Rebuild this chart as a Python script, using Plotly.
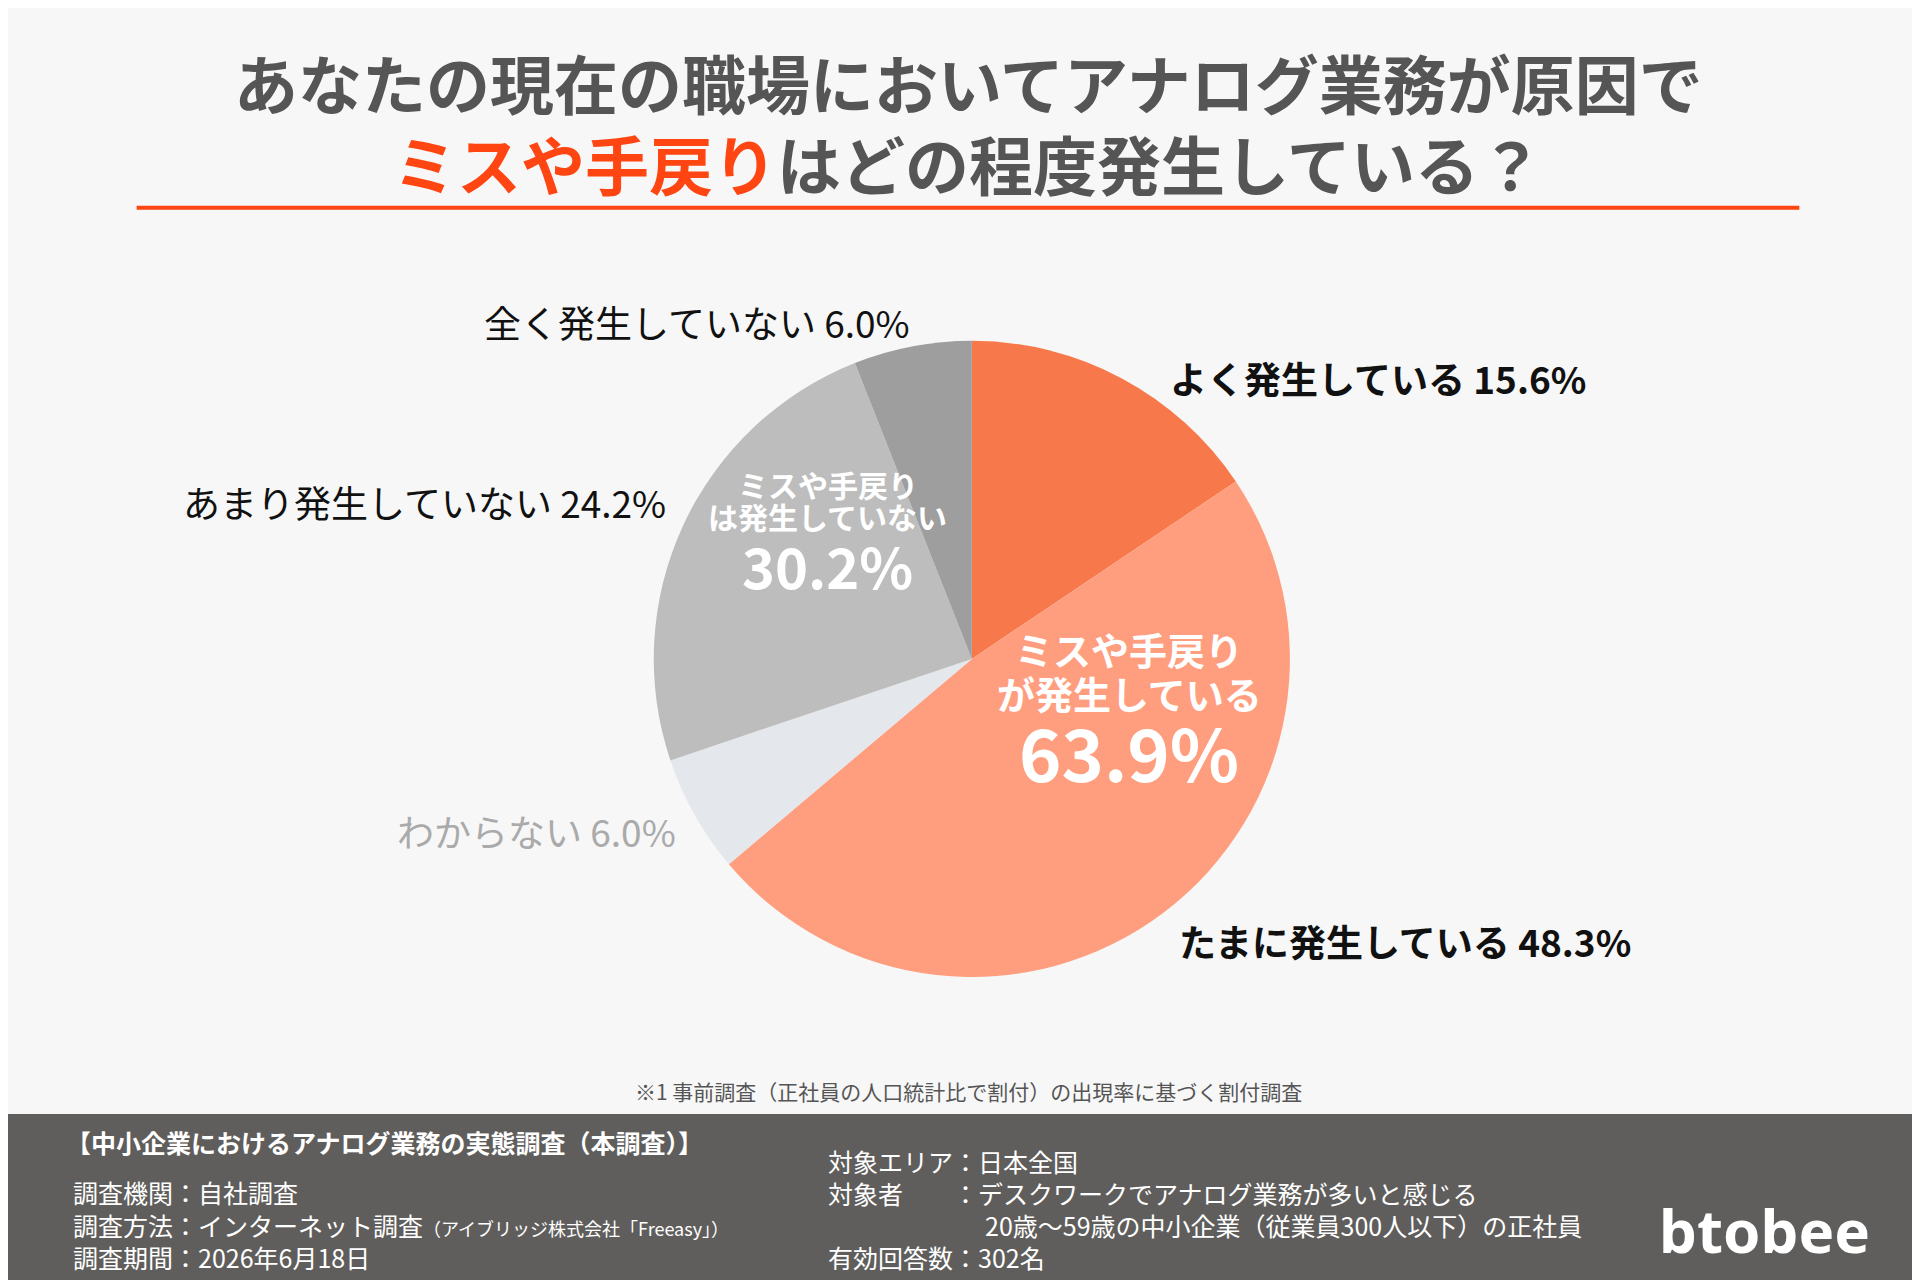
import plotly.graph_objects as go

# Data
labels = ["よく発生している", "たまに発生している", "わからない", "あまり発生していない", "全く発生していない"]
values = [15.6, 48.3, 6.0, 24.2, 6.0]
colors = ["#F7784A", "#FF9E7E", "#E4E7EB", "#BDBDBD", "#9E9E9E"]
group_labels = [["ミスや手戻り", "が発生している"], ["ミスや手戻り", "は発生していない"]]
group_values = [63.9, 30.2]

FONT = "Noto Sans CJK JP"

fig = go.Figure()

fig.add_trace(go.Pie(
    labels=labels,
    values=values,
    marker=dict(colors=colors, line=dict(width=0)),
    sort=False,
    direction="clockwise",
    rotation=0,
    textinfo="none",
    hoverinfo="label+percent",
    showlegend=False,
    domain=dict(x=[0.336, 0.668], y=[0.243, 0.74]),
))


def note(x, y, text, size, color, xanchor="center", family=FONT):
    """Place a text in paper coordinates, y measured from the top."""
    fig.add_annotation(x=x, y=1 - y, xref="paper", yref="paper", xanchor=xanchor, yanchor="middle",
                       text=text, showarrow=False, font=dict(family=family, size=size, color=color))


# Outside slice labels
outside = [
    (0, 0.604, 0.289, "left", "#111111"),
    (1, 0.609, 0.729, "left", "#111111"),
    (2, 0.349, 0.643, "right", "#AAAAAA"),
    (3, 0.344, 0.386, "right", "#111111"),
    (4, 0.471, 0.245, "right", "#111111"),
]
for i, x, y, anchor, col in outside:
    txt = f"{labels[i]} {values[i]:.1f}%"
    note(x, y, f"<b>{txt}</b>" if i in (0, 1) else txt, 37, col, anchor)

# Group labels inside the pie
note(0.584, 0.500, f"<b>{group_labels[0][0]}</b>", 38, "white")
note(0.584, 0.535, f"<b>{group_labels[0][1]}</b>", 38, "white")
note(0.584, 0.580, f"<b>{group_values[0]}%</b>", 72, "white")
note(0.427, 0.372, f"<b>{group_labels[1][0]}</b>", 30, "white")
note(0.427, 0.397, f"<b>{group_labels[1][1]}</b>", 30, "white")
note(0.427, 0.435, f"<b>{group_values[1]}%</b>", 56, "white")

# Title
note(0.5, 0.057, "<b>あなたの現在の職場においてアナログ業務が原因で</b>", 64, "#555555")
note(0.5, 0.12, "<b><span style='color:#FF4512'>ミスや手戻り</span>はどの程度発生している？</b>", 64, "#555555")

# Footnote
note(0.5, 0.846, "※1 事前調査（正社員の人口統計比で割付）の出現率に基づく割付調査", 21, "#555555")

# Footer texts
footer = [
    (0.029, 0.886, "<b>【中小企業におけるアナログ業務の実態調査（本調査）】</b>"),
    (0.033, 0.925, "調査機関：自社調査"),
    (0.033, 0.951, "調査方法：インターネット調査<span style='font-size:18px'>（アイブリッジ株式会社「Freeasy」）</span>"),
    (0.033, 0.976, "調査期間：2026年6月18日"),
    (0.426, 0.901, "対象エリア：日本全国"),
    (0.426, 0.926, "対象者　　：デスクワークでアナログ業務が多いと感じる"),
    (0.508, 0.951, "20歳～59歳の中小企業（従業員300人以下）の正社員"),
    (0.426, 0.976, "有効回答数：302名"),
]
for x, y, t in footer:
    note(x, y, t, 25, "white", "left")
note(0.915, 0.955, "<b>btobee</b>", 60, "white", "center", "Noto Sans")

fig.update_layout(
    width=1920, height=1280,
    margin=dict(l=0, r=0, t=0, b=0),
    paper_bgcolor="#F7F7F7", plot_bgcolor="#F7F7F7",
    shapes=[
        dict(type="line", xref="paper", yref="paper", x0=0.067, x1=0.933, y0=1 - 0.156, y1=1 - 0.156,
             line=dict(color="#FF4512", width=4)),
        dict(type="rect", xref="paper", yref="paper", x0=0, x1=1, y0=0, y1=1 - 0.864,
             fillcolor="#5F5E5C", line=dict(width=0), layer="below"),
    ],
)

fig.write_html("out.html")
